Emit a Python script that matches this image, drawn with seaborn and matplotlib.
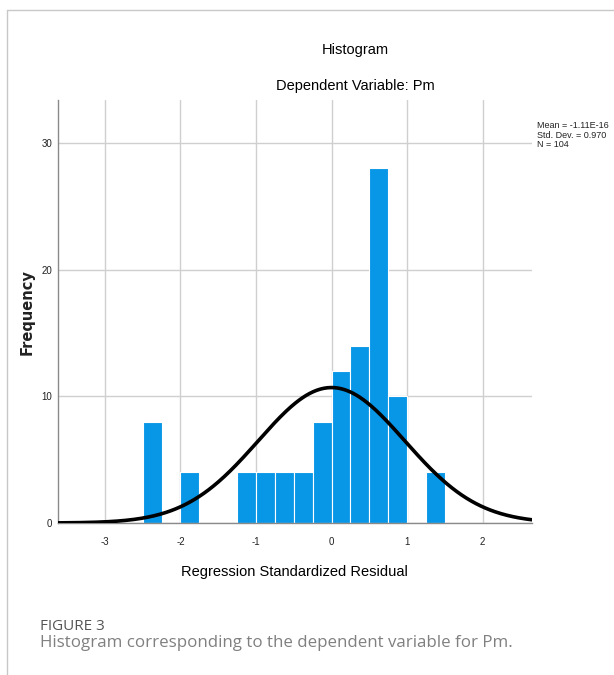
import numpy as np
import pandas as pd
import seaborn as sns
import matplotlib.pyplot as plt
from matplotlib.lines import Line2D

# Binned residual counts (bin width 0.25)
bin_left = [-2.50, -2.25, -2.00, -1.75, -1.50, -1.25, -1.00, -0.75, -0.50, -0.25,
            0.00, 0.25, 0.50, 0.75, 1.00, 1.25]
counts = [8, 0, 4, 0, 0, 4, 4, 4, 4, 8, 12, 14, 28, 10, 0, 4]
bin_width = 0.25
mean_val = -1.11e-16
std_val = 0.970
n_obs = 104
x_ticks = [-3, -2, -1, 0, 1, 2]
y_ticks = [0, 10, 20, 30]

sns.set_theme(style="white")
plt.rcParams['font.family'] = ['Liberation Sans Narrow', 'Liberation Sans', 'DejaVu Sans']

df = pd.DataFrame({"resid": np.array(bin_left) + bin_width / 2, "count": counts})
edges = [float(b) for b in bin_left] + [bin_left[-1] + bin_width]

fig = plt.figure(figsize=(6.14, 6.75), dpi=100)
ax = fig.add_axes([0.0945, 0.2252, 0.7715, 0.6267])

sns.histplot(data=df, x="resid", weights="count", bins=edges, ax=ax,
             color="#0896e6", alpha=1.0, edgecolor="white", linewidth=0.8, zorder=2)

# Normal curve scaled to the histogram
xs = np.linspace(-3.62, 2.65, 400)
ys = n_obs * bin_width / (std_val * np.sqrt(2 * np.pi)) * np.exp(-0.5 * ((xs - mean_val) / std_val) ** 2)
sns.lineplot(x=xs, y=ys, ax=ax, color="black", linewidth=2.6, zorder=3)

ax.set_xlim(-3.62, 2.65)
ax.set_ylim(0, 33.4)
ax.set_xticks(x_ticks)
ax.set_yticks(y_ticks)
ax.set_xticklabels([str(t) for t in x_ticks], fontsize=7, color="#222222")
ax.set_yticklabels([str(t) for t in y_ticks], fontsize=7, color="#222222")
ax.tick_params(axis="x", length=0, pad=10)
ax.tick_params(axis="y", length=0, pad=4)
ax.grid(True, color="#cfcfcf", linewidth=1.0, zorder=0)
ax.set_axisbelow(True)
for side in ["top", "right"]:
    ax.spines[side].set_visible(False)
for side in ["left", "bottom"]:
    ax.spines[side].set_color("#8a8a8a")
    ax.spines[side].set_linewidth(1.0)

ax.set_xlabel("Regression Standardized Residual", fontsize=10.5, color="#000000", labelpad=13)
ax.set_ylabel("")
fig.text(0.044, 0.538, "Frequency", rotation=90, ha="center", va="center",
         fontsize=10.5, fontweight="bold", color="#222222", family=["DejaVu Sans"])

fig.text(0.578, 0.926, "Histogram", ha="center", va="center", fontsize=10.5, color="#000000")
fig.text(0.578, 0.872, "Dependent Variable: Pm", ha="center", va="center", fontsize=10.5, color="#000000")

fig.text(0.875, 0.800,
         "Mean = -1.11E-16\nStd. Dev. = 0.970\nN = 104",
         ha="left", va="center", fontsize=6.5, color="#222222", linespacing=1.05)

# Panel frame lines
fig.add_artist(Line2D([7 / 614, 1.0], [1 - 10 / 675, 1 - 10 / 675], color="#c8c8c8", linewidth=1.0))
fig.add_artist(Line2D([7 / 614, 7 / 614], [0.0, 1 - 10 / 675], color="#c8c8c8", linewidth=1.0))

fig.text(40 / 614, 1 - 626 / 675, "FIGURE 3", ha="left", va="center", fontsize=11,
         color="#555555", family=["Open Sans", "DejaVu Sans"])
fig.text(40 / 614, 1 - 643 / 675, "Histogram corresponding to the dependent variable for Pm.",
         ha="left", va="center", fontsize=12.2, color="#808080", family=["Open Sans", "DejaVu Sans"])

fig.savefig("out.png", dpi=100)
